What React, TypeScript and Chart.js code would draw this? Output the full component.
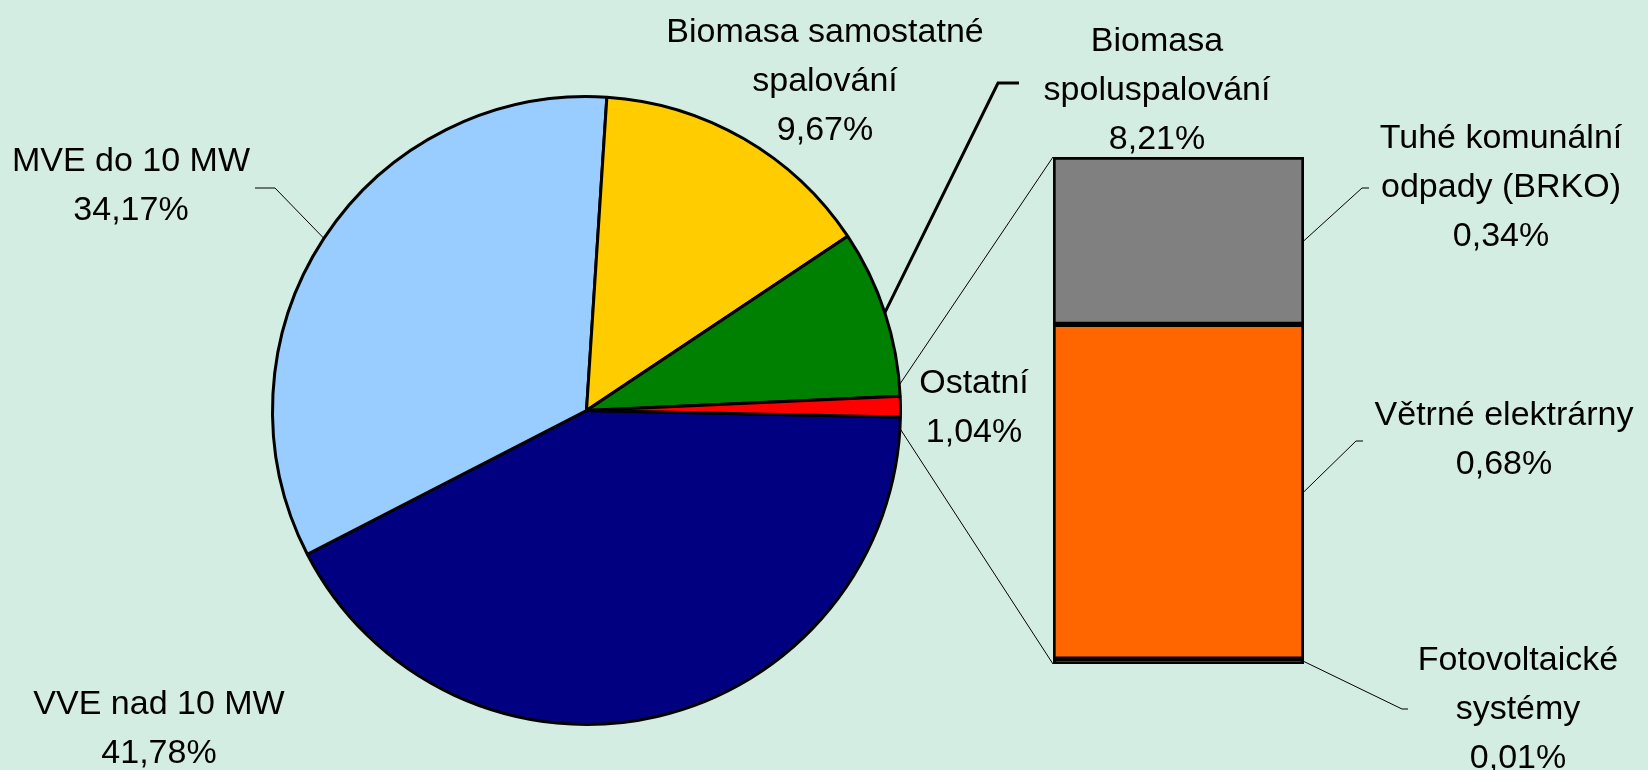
import React, { useEffect, useRef } from 'react';
import { Chart, registerables } from 'chart.js';

Chart.register(...registerables);

const W = 1648;
const H = 770;

// ---- Main pie data (clockwise from the east) ----
const pieCategories = ['VVE nad 10 MW', 'MVE do 10 MW', 'Biomasa samostatné spalování', 'Biomasa spoluspalování', 'Ostatní'];
const pieSliceValues = [42.1, 33.6, 14.6, 8.64, 1.06];
const pieLabelPercents = ['41,78%', '34,17%', '9,67%', '8,21%', '1,04%'];
const pieColors = ['#000080', '#99CCFF', '#FFCC00', '#008000', '#FF0000'];

// ---- "Ostatní" breakdown bar (bottom to top) ----
const barCategories = ['Fotovoltaické systémy', 'Větrné elektrárny', 'Tuhé komunální odpady (BRKO)'];
const barValues = [0.01, 0.68, 0.34];
const barLabelPercents = ['0,01%', '0,68%', '0,34%'];
const barColors = ['#000000', '#FF6600', '#808080'];
const barTotal = 1.03;

// ---- label text lines ----
const pieLabelLines = [
  ['VVE nad 10 MW'],
  ['MVE do 10 MW'],
  ['Biomasa samostatné', 'spalování'],
  ['Biomasa', 'spoluspalování'],
  ['Ostatní'],
];
const barLabelLines = [
  ['Fotovoltaické', 'systémy'],
  ['Větrné elektrárny'],
  ['Tuhé komunální', 'odpady (BRKO)'],
];

// ---- label layout (annotation placement) ----
const LINE_H = 49;
const FONT = '34px "Liberation Sans", Arial, sans-serif';
const pieLabelPos = [
  { x: 159, y: 714, elbow: null, end: null, width: 1 },
  { x: 131, y: 171, elbow: [275, 188], end: [255, 188], width: 1 },
  { x: 825, y: 42, elbow: null, end: null, width: 1 },
  { x: 1157, y: 51, elbow: [998, 83], end: [1019, 83], width: 3 },
  { x: 974, y: 393, elbow: null, end: null, width: 1 },
];
const barLabelPos = [
  { x: 1518, y: 670, elbow: [1402, 709], end: [1408, 709] },
  { x: 1504, y: 425, elbow: [1356, 441], end: [1363, 441] },
  { x: 1501, y: 148, elbow: [1362, 188], end: [1369, 188] },
];

export default function App() {
  const pieRef = useRef<HTMLCanvasElement | null>(null);
  const barRef = useRef<HTMLCanvasElement | null>(null);

  useEffect(() => {
    document.body.style.margin = '0';
    if (!pieRef.current || !barRef.current) return;

    const pie = new Chart(pieRef.current, {
      type: 'pie',
      data: {
        labels: pieCategories,
        datasets: [
          {
            data: pieSliceValues,
            backgroundColor: pieColors,
            borderColor: '#000000',
            borderWidth: 3,
            hoverOffset: 0,
          },
        ],
      },
      options: {
        animation: false,
        responsive: false,
        events: [],
        rotation: 91.2,
        radius: 314,
        layout: { padding: { left: 0, right: 475, top: 51, bottom: 0 } },
        plugins: { legend: { display: false }, tooltip: { enabled: false } },
      },
    });

    const annotations = {
      id: 'annotations',
      afterDraw(chart: any) {
        const ctx = chart.ctx as CanvasRenderingContext2D;
        const arcs = pie.getDatasetMeta(0).data as any[];
        ctx.save();
        ctx.strokeStyle = '#000000';
        ctx.lineCap = 'butt';

        // pie leaders
        arcs.forEach((arc, i) => {
          const p = arc.getProps(['x', 'y', 'startAngle', 'endAngle', 'outerRadius'], true);
          const pos = pieLabelPos[i];
          if (pos.elbow && pos.end) {
            const mid = (p.startAngle + p.endAngle) / 2;
            const sx = p.x + Math.cos(mid) * p.outerRadius;
            const sy = p.y + Math.sin(mid) * p.outerRadius;
            ctx.lineWidth = pos.width;
            ctx.beginPath();
            ctx.moveTo(sx, sy);
            ctx.lineTo(pos.elbow[0], pos.elbow[1]);
            ctx.lineTo(pos.end[0], pos.end[1]);
            ctx.stroke();
          }
        });

        // connectors from "Ostatní" slice to the bar
        const other = arcs[arcs.length - 1].getProps(['x', 'y', 'startAngle', 'endAngle', 'outerRadius'], true);
        const midO = (other.startAngle + other.endAngle) / 2;
        const dA = (4 * Math.PI) / 180;
        const topBar = chart.getDatasetMeta(barValues.length - 1).data[0].getProps(['x', 'y', 'base', 'width'], true);
        const botBar = chart.getDatasetMeta(0).data[0].getProps(['x', 'y', 'base', 'width'], true);
        ctx.lineWidth = 1;
        ctx.beginPath();
        ctx.moveTo(other.x + Math.cos(midO - dA) * other.outerRadius, other.y + Math.sin(midO - dA) * other.outerRadius);
        ctx.lineTo(topBar.x - topBar.width / 2, topBar.y);
        ctx.moveTo(other.x + Math.cos(midO + dA) * other.outerRadius, other.y + Math.sin(midO + dA) * other.outerRadius);
        ctx.lineTo(botBar.x - botBar.width / 2, botBar.base);
        ctx.stroke();

        // bar leaders
        barValues.forEach((_, i) => {
          const b = chart.getDatasetMeta(i).data[0].getProps(['x', 'y', 'base', 'width'], true);
          const pos = barLabelPos[i];
          ctx.lineWidth = 1;
          ctx.beginPath();
          ctx.moveTo(b.x + b.width / 2, (b.y + b.base) / 2);
          ctx.lineTo(pos.elbow[0], pos.elbow[1]);
          ctx.lineTo(pos.end[0], pos.end[1]);
          ctx.stroke();
        });

        // texts
        ctx.fillStyle = '#000000';
        ctx.font = FONT;
        ctx.textAlign = 'center';
        ctx.textBaseline = 'alphabetic';
        pieCategories.forEach((_, i) => {
          const lines = [...pieLabelLines[i], pieLabelPercents[i]];
          const pos = pieLabelPos[i];
          lines.forEach((t, k) => ctx.fillText(t, pos.x, pos.y + k * LINE_H));
        });
        barCategories.forEach((_, i) => {
          const lines = [...barLabelLines[i], barLabelPercents[i]];
          const pos = barLabelPos[i];
          lines.forEach((t, k) => ctx.fillText(t, pos.x, pos.y + k * LINE_H));
        });
        ctx.restore();
      },
    };

    const bar = new Chart(barRef.current, {
      type: 'bar',
      data: {
        labels: ['Ostatní'],
        datasets: barCategories.map((name, i) => ({
          label: name,
          data: [barValues[i]],
          backgroundColor: barColors[i],
          borderColor: '#000000',
          borderWidth: 3,
          borderSkipped: false,
          barPercentage: 1,
          categoryPercentage: 1,
        })),
      },
      options: {
        animation: false,
        responsive: false,
        events: [],
        layout: { padding: { left: 1053, right: 344, top: 157, bottom: 106 } },
        scales: {
          x: { stacked: true, display: false },
          y: { stacked: true, display: false, min: 0, max: barTotal },
        },
        plugins: { legend: { display: false }, tooltip: { enabled: false } },
      },
      plugins: [annotations],
    });

    return () => {
      bar.destroy();
      pie.destroy();
    };
  }, []);

  return (
    <div
      style={{
        position: 'fixed',
        left: 0,
        top: 0,
        width: W,
        height: H,
        background: '#D4EDE2',
        overflow: 'hidden',
      }}
    >
      <canvas ref={pieRef} width={W} height={H} style={{ position: 'absolute', left: 0, top: 0, width: W, height: H }} />
      <canvas
        ref={barRef}
        width={W}
        height={H}
        style={{ position: 'absolute', left: 0, top: 0, width: W, height: H, pointerEvents: 'none' }}
      />
    </div>
  );
}
